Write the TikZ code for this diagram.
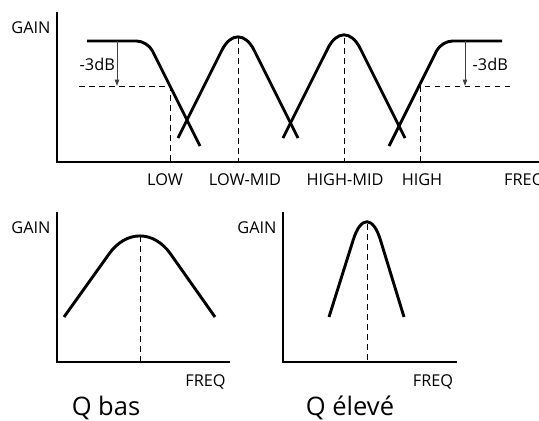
\documentclass[tikz,border=0pt]{standalone}
\usepackage{fontspec}
\setmainfont{Open Sans}
\usetikzlibrary{arrows.meta}
\begin{document}
\begin{tikzpicture}[x=1pt,y=-1pt,
  axis/.style={line width=1.3pt,line cap=butt},
  curve/.style={line width=2.9pt,line join=round},
  guide/.style={line width=0.9pt,dash pattern=on 5.5pt off 4.5pt},
  drop/.style={line width=1pt,black!75,-{Triangle[length=6.5pt,width=4.5pt]}},
  lbl/.style={inner sep=0pt,anchor=base,font=\fontsize{16.3}{19}\selectfont},
  lblw/.style={lbl,anchor=base west},
  title/.style={inner sep=0pt,anchor=base,font=\fontsize{25.5}{29}\selectfont}]
\useasboundingbox (0,0) rectangle (539,421);
% ---------- top chart ----------
\coordinate (o1) at (57,162);
\coordinate (y1) at (57,12);
\coordinate (x1) at (539,162);
\draw[axis] (y1) -- (o1) -- (x1);
\node[lbl] (g1) at (31,33) {GAIN};
% low shelf
\draw[curve,rounded corners=11pt] (87,41) -- (147.5,41) -- (200,146);
% high shelf
\draw[curve,rounded corners=11pt] (389,146) -- (441.5,41) -- (502,41);
% low-mid bell
\draw[curve,rounded corners=36pt] (178,138) -- (238,18) -- (298,138);
% high-mid bell
\draw[curve,rounded corners=36pt] (283,138) -- (344,16) -- (405,138);
% -3dB guides
\coordinate (la) at (117,41);
\coordinate (lb) at (117,86);
\draw[drop] (la) -- (lb);
\coordinate (ra) at (465,41);
\coordinate (rb) at (465,86);
\draw[drop] (ra) -- (rb);
\node[lblw] (d1) at (79.5,70) {-3dB};
\node[lblw] (d2) at (472.5,70) {-3dB};
\coordinate (h1a) at (79,86);
\coordinate (h1b) at (170,86);
\coordinate (h1c) at (170,162);
\draw[guide] (h1a) -- (h1b) -- (h1c);
\coordinate (h2a) at (510,86);
\coordinate (h2b) at (420,86);
\coordinate (h2c) at (420,162);
\draw[guide] (h2a) -- (h2b) -- (h2c);
\coordinate (p1) at (238,38);
\coordinate (p1b) at (238,162);
\draw[guide] (p1) -- (p1b);
\coordinate (p2) at (344,38);
\coordinate (p2b) at (344,162);
\draw[guide] (p2) -- (p2b);
\node[lbl] (low) at (165,185) {LOW};
\node[lbl] (lowmid) at (245,185) {LOW-MID};
\node[lbl] (highmid) at (345,185) {HIGH-MID};
\node[lbl] (high) at (422,185) {HIGH};
\node[lblw] (f1) at (504,185) {FREQ};
% ---------- bottom left ----------
\coordinate (o2) at (57,362);
\coordinate (y2) at (57,212);
\coordinate (x2) at (230,362);
\draw[axis] (y2) -- (o2) -- (x2);
\node[lbl] (g2) at (31,233) {GAIN};
\draw[curve,rounded corners=53pt] (64,317) -- (140,210.6) -- (215,317);
\coordinate (q1) at (140,236);
\coordinate (q1b) at (140,362);
\draw[guide] (q1) -- (q1b);
\node[lbl] (f2) at (205.5,386) {FREQ};
\node[title] (t1) at (106,415) {Q bas};
% ---------- bottom right ----------
\coordinate (o3) at (283,362);
\coordinate (y3) at (283,212);
\coordinate (x3) at (457,362);
\draw[axis] (y3) -- (o3) -- (x3);
\node[lbl] (g3) at (257,233) {GAIN};
\draw[curve,rounded corners=46pt] (329,317) -- (367,196) -- (404,317);
\coordinate (q2) at (367,224);
\coordinate (q2b) at (367,362);
\draw[guide] (q2) -- (q2b);
\node[lbl] (f3) at (433,386) {FREQ};
\node[title] (t2) at (350,415) {Q élevé};
\end{tikzpicture}
\end{document}
